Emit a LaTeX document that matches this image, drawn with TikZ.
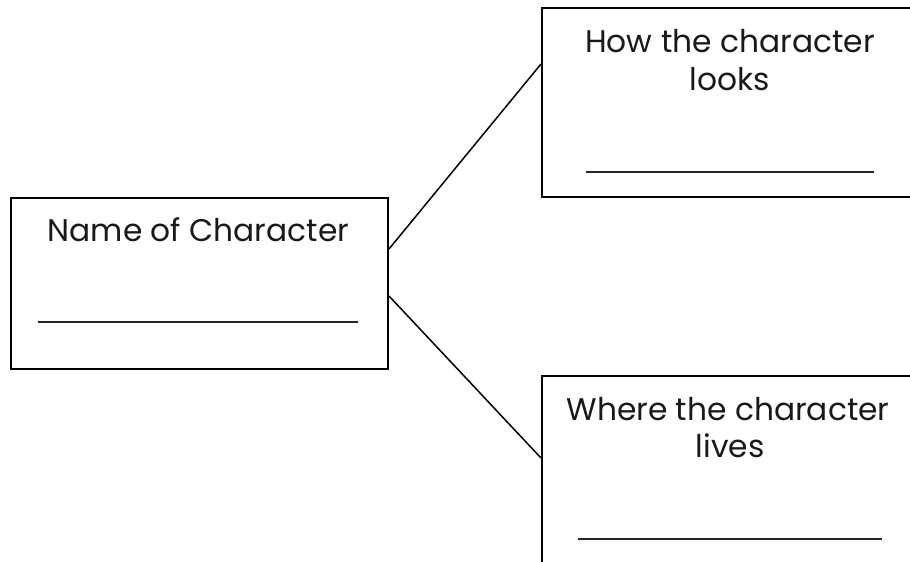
\documentclass[tikz,border=0pt]{standalone}
\usepackage{fontspec}
\setmainfont{Poppins}
\begin{document}
\begin{tikzpicture}[x=1pt,y=-1pt,
  box/.style={draw=black,line width=2pt,anchor=north west,inner sep=0pt},
  lbl/.style={anchor=base,inner sep=0pt,font=\fontsize{31.3}{36}\selectfont\rmfamily\mdseries,text=black!90},
  blank/.style={line width=1.4pt,black!85},
  link/.style={line width=1.5pt,black}]
\useasboundingbox (0,0) rectangle (910,562);
\clip (0,0) rectangle (910,562);
\node[box,minimum width=377pt,minimum height=171pt] (name) at (10,197) {};
\node[box,minimum width=380pt,minimum height=189pt] (look) at (541,7) {};
\node[box,minimum width=380pt,minimum height=200pt] (live) at (541,375) {};
\node[lbl] (t1) at (198.5,241) {Name of Character};
\node[lbl] (t2) at (730,52) {How the character};
\node[lbl] (t3) at (730,90) {looks};
\node[lbl] (t4) at (728,420) {Where the character};
\node[lbl] (t5) at (730,457) {lives};
\coordinate (u1a) at (38,322); \coordinate (u1b) at (358,322);
\coordinate (u2a) at (586,172); \coordinate (u2b) at (874,172);
\coordinate (u3a) at (578,539); \coordinate (u3b) at (882,539);
\draw[blank] (u1a) -- (u1b);
\draw[blank] (u2a) -- (u2b);
\draw[blank] (u3a) -- (u3b);
\draw[link] ([yshift=34.5pt]name.east) -- ([yshift=38.5pt]look.west);
\draw[link] ([yshift=-12.5pt]name.east) -- ([yshift=18pt]live.west);
\end{tikzpicture}
\end{document}
